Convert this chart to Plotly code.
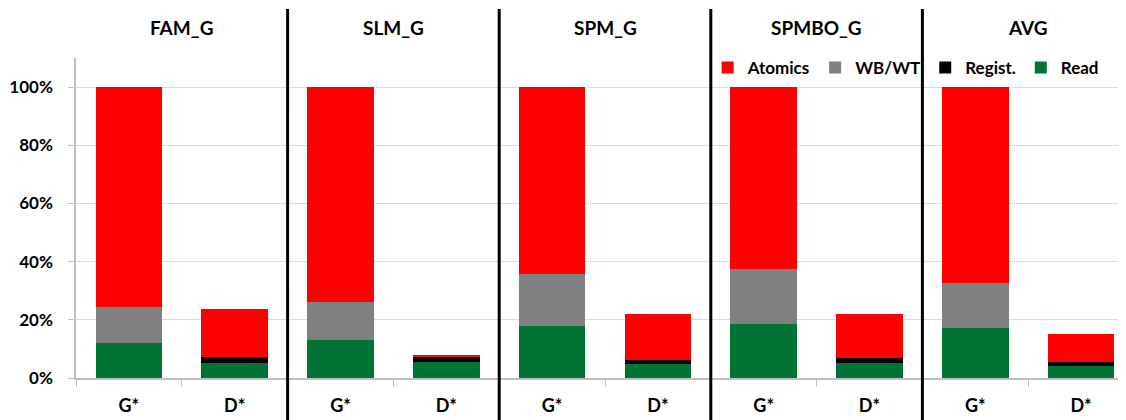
import plotly.graph_objects as go

groups = ["FAM_G", "SLM_G", "SPM_G", "SPMBO_G", "AVG"]
configs = ["G*", "D*"]

# stacked shares (percent) per bar, order: FAM_G G*, FAM_G D*, SLM_G G*, ...
read = [12.1, 5.3, 13.1, 5.5, 17.9, 4.8, 18.6, 5.3, 17.3, 4.1]
regist = [0.0, 1.9, 0.0, 1.8, 0.0, 1.4, 0.0, 1.6, 0.0, 1.5]
wbwt = [12.2, 0.0, 13.0, 0.0, 17.8, 0.0, 18.9, 0.0, 15.3, 0.0]
atomics = [75.7, 16.5, 73.9, 0.5, 64.3, 15.8, 62.5, 15.0, 67.4, 9.5]

y_ticks = [0, 20, 40, 60, 80, 100]
y_tick_text = ["0%", "20%", "40%", "60%", "80%", "100%"]

cats = [f"{g}|{c}" for g in groups for c in configs]
tick_text = [c for g in groups for c in configs]

FONT = "Lato, 'Open Sans', sans-serif"

fig = go.Figure()
series = [
    ("Read", read, "#007434"),
    ("Regist.", regist, "#000000"),
    ("WB/WT", wbwt, "#808080"),
    ("Atomics", atomics, "#ff0000"),
]
for name, vals, col in series:
    fig.add_trace(go.Bar(
        x=cats, y=vals, name=f"<b>{name}</b>", width=0.63,
        marker=dict(color=col, line=dict(width=0)),
    ))

# group dividers
for i in range(1, len(groups)):
    fig.add_shape(type="line", xref="x", yref="paper",
                  x0=2 * i - 0.5, x1=2 * i - 0.5, y0=-0.16, y1=1.153,
                  line=dict(color="black", width=3))

# group titles
for i, g in enumerate(groups):
    fig.add_annotation(x=2 * i + 0.5, xref="x", y=1.094, yref="paper",
                       text=f"<b>{g}</b>", showarrow=False,
                       font=dict(family=FONT, size=19, color="black"),
                       xanchor="center", yanchor="middle")

fig.update_layout(
    width=1126, height=420,
    margin=dict(l=68, r=0, t=50, b=50, autoexpand=False),
    barmode="stack",
    plot_bgcolor="white", paper_bgcolor="white",
    font=dict(family=FONT, color="black"),
    showlegend=True,
    legend=dict(orientation="h", traceorder="reversed",
                x=0.597, xanchor="left", y=0.969, yanchor="middle",
                font=dict(family=FONT, size=17, color="black"),
                bgcolor="rgba(0,0,0,0)", itemwidth=30),
    xaxis=dict(type="category", categoryorder="array", categoryarray=cats,
               tickvals=cats, ticktext=[f"<b>{t}</b>" for t in tick_text],
               range=[-0.5, 9.5], tickson="boundaries",
               ticks="outside", ticklen=7, tickcolor="#bfbfbf",
               showline=True, linecolor="#bfbfbf", linewidth=1.5,
               tickfont=dict(family=FONT, size=18, color="black"),
               ticklabelstandoff=11, showgrid=False, fixedrange=True),
    yaxis=dict(range=[0, 110], tickvals=y_ticks,
               ticktext=[f"<b>{t}</b>" for t in y_tick_text],
               ticks="outside", ticklen=6, tickcolor="#bfbfbf",
               showline=True, linecolor="#bfbfbf", linewidth=1.5,
               showgrid=True, gridcolor="#dcdcdc", gridwidth=1,
               zeroline=False,
               tickfont=dict(family=FONT, size=17, color="black"),
               ticklabelstandoff=12),
)

fig.write_html("out.html")
